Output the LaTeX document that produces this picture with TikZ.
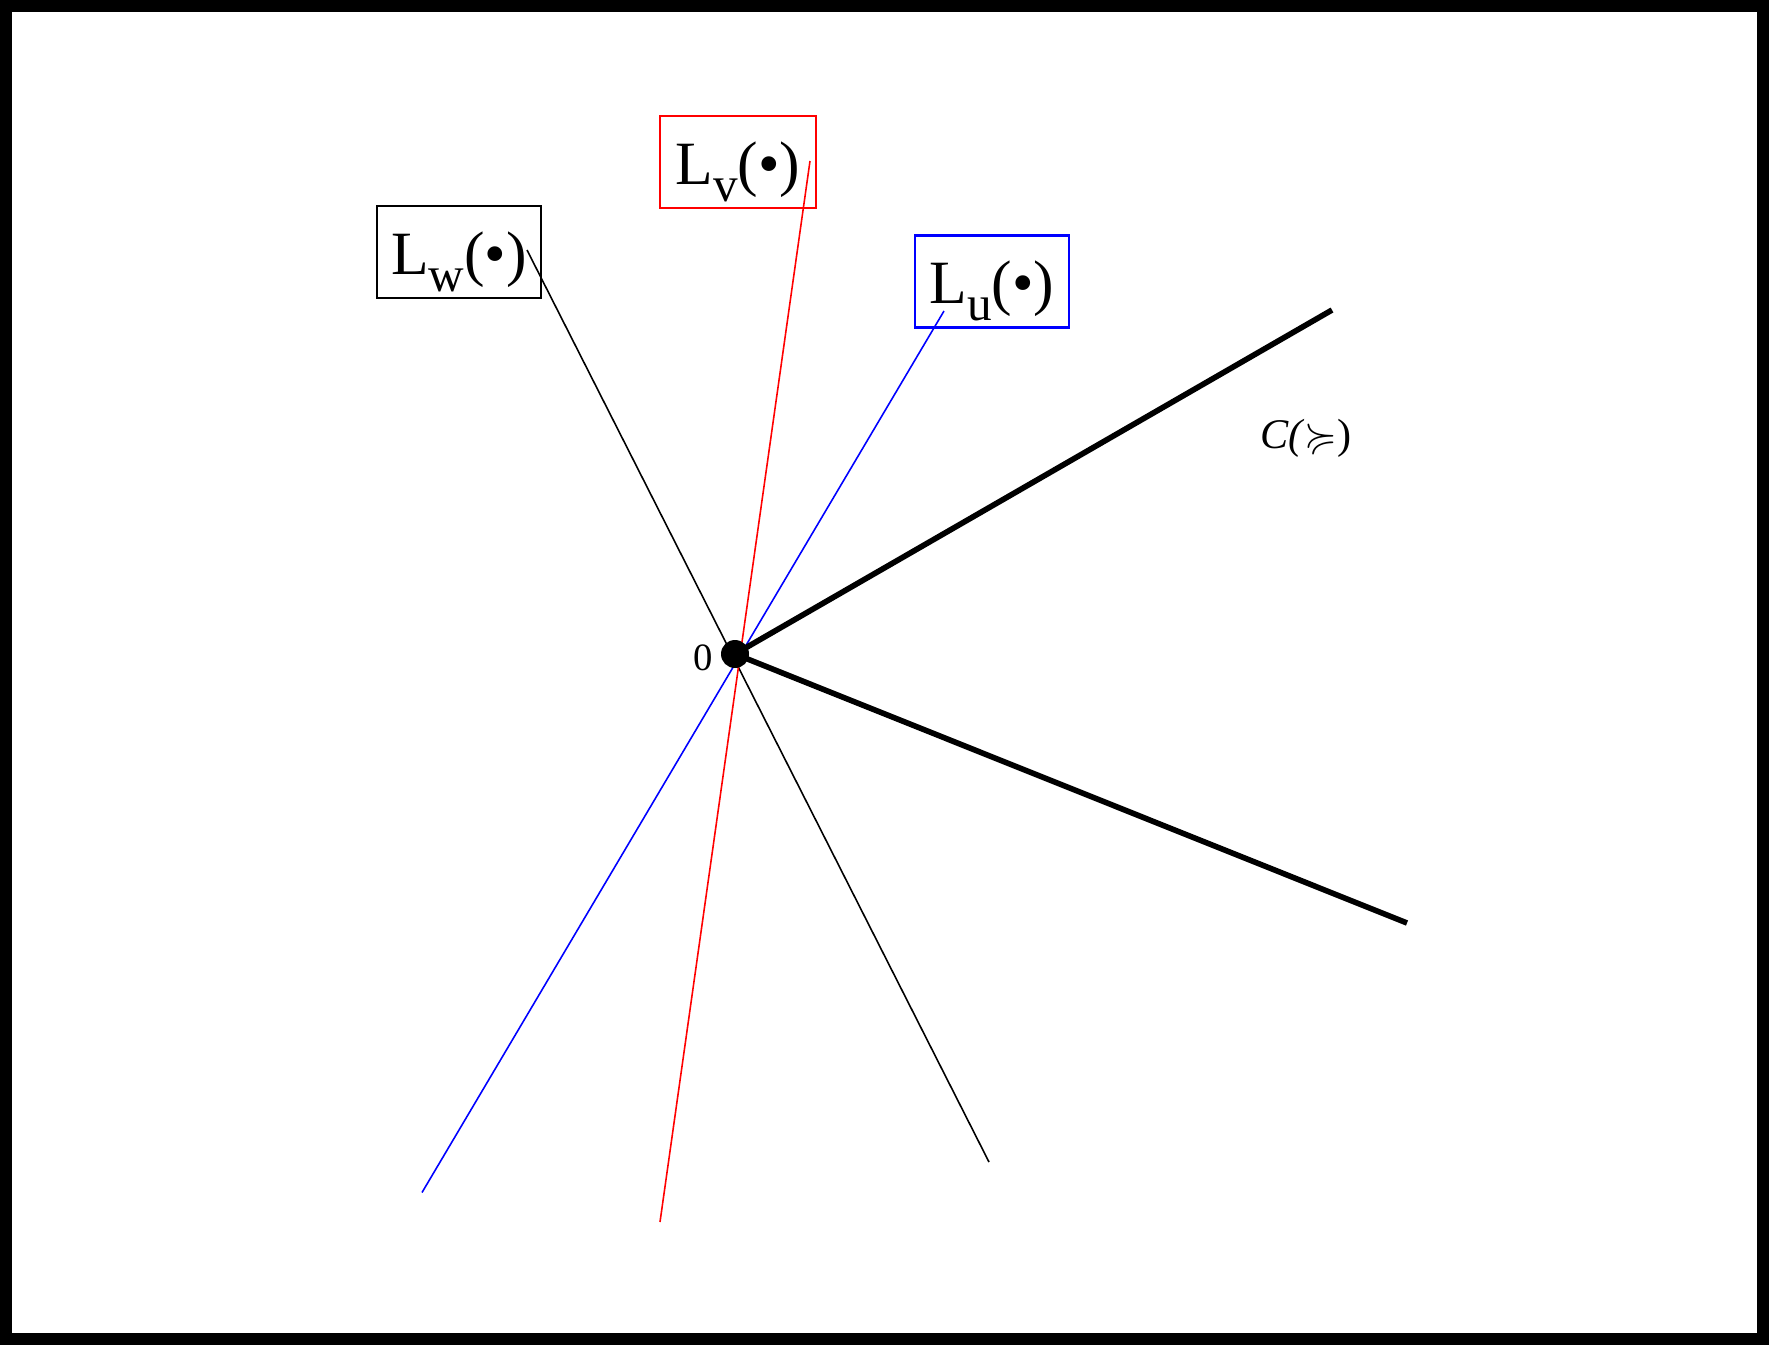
\documentclass[tikz,border=0pt]{standalone}
\usepackage{amssymb}
\usepackage{fontspec}
\setmainfont{Liberation Serif}
\newcommand{\subw}[1]{\raisebox{-0.28em}{\fontsize{14}{16}\selectfont #1}}
\begin{document}
\begin{tikzpicture}[x=0.01cm,y=-0.01cm,
  labelbox/.style={draw, line width=0.6pt, minimum width=1.56cm, minimum height=0.92cm, inner sep=0pt, text height=0.54cm, text depth=0.1cm, font=\fontsize{17.5}{20}\selectfont},
  thinline/.style={line width=0.45pt},
  thickline/.style={line width=1.6pt}]
\useasboundingbox (0,0) rectangle (1769,1345);
\draw[line width=0.12cm] (6,6) rectangle (1763,1339);
% label boxes
\node[labelbox, minimum width=1.64cm] (Lw) at (459,252) {L\subw{w}(•)};
\node[labelbox, draw=red] (Lv) at (738,162) {L\subw{v}(•)};
\node[labelbox, draw=blue, minimum width=1.54cm] (Lu) at (992,281.5) {L\subw{u}(•)};
% line end points
\coordinate (w1) at (527,250);
\coordinate (w2) at (989,1162);
\coordinate (v1) at (810,161);
\coordinate (v2) at (660,1222);
\coordinate (u1) at (944,311);
\coordinate (u2) at (422,1192.5);
\coordinate (c1) at (1332,310);
\coordinate (c2) at (1407,923);
\coordinate (O) at (735,654);
% lines
\draw[thinline, black] (w1) -- (w2);
\draw[thinline, red] (v1) -- (v2);
\draw[thinline, blue] (u1) -- (u2);
\draw[thickline] (O) -- (c1);
\draw[thickline] (O) -- (c2);
\fill (O) circle (14);
\node[font=\fontsize{11}{13}\selectfont] (zero) at (703,658) {0};
\node[font=\fontsize{12}{14}\selectfont] (C) at (1306,438) {\textit{C(}$\succcurlyeq$)};
\end{tikzpicture}
\end{document}
